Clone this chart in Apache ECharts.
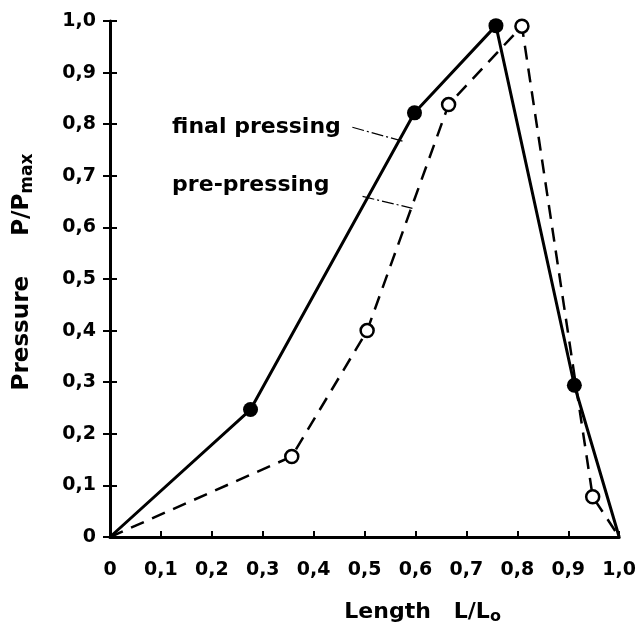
<!DOCTYPE html>
<html>
<head>
<meta charset="utf-8">
<script src="https://cdn.jsdelivr.net/npm/echarts@6/dist/echarts.min.js"></script>
<style>html,body{margin:0;padding:0;background:#fff}#c{width:639px;height:630px}</style>
</head>
<body>
<div id="c"></div>
<script>
// ---- data ----
var xTickLabels = ['0','0,1','0,2','0,3','0,4','0,5','0,6','0,7','0,8','0,9','1,0'];
var yTickLabels = ['0','0,1','0,2','0,3','0,4','0,5','0,6','0,7','0,8','0,9','1,0'];
var finalX = [0, 0.276, 0.598, 0.758, 0.912, 1.0];
var finalY = [0, 0.247, 0.822, 0.991, 0.294, 0.0];
var preX = [0, 0.357, 0.505, 0.665, 0.809, 0.948, 1.0];
var preY = [0, 0.156, 0.400, 0.838, 0.990, 0.078, 0.0];
var annoText = ['final pressing', 'pre-pressing'];
var annoAt = [[0.122, 0.794], [0.122, 0.681]];
var leaderFinal = [[0.476, 0.794], [0.575, 0.767]];
var leaderPre = [[0.496, 0.660], [0.594, 0.637]];

// endpoints on the axes carry no marker in the original
function zip(xs, ys) {
  return xs.map(function (x, i) {
    var item = {value: [x, ys[i]]};
    if (i === 0 || i === xs.length - 1) item.symbol = 'none';
    return item;
  });
}
function tickFmt(labels) {
  return function (v) { var i = Math.round(v * 10); return labels[i] !== undefined ? labels[i] : ''; };
}
var FONT = 'DejaVu Sans';
var chart = echarts.init(document.getElementById('c'), null, {renderer: 'canvas'});
var option = {
  animation: false,
  backgroundColor: '#fff',
  grid: {left: 110, right: 19, top: 21, bottom: 89, containLabel: false},
  xAxis: {
    type: 'value', min: 0, max: 1, interval: 0.1,
    name: 'Length   L/L{s|o}',
    nameLocation: 'middle', nameGap: 62,
    nameTextStyle: {
      fontFamily: FONT, fontWeight: 'bold', fontSize: 22, color: '#000', padding: [0, 0, 0, 116],
      rich: {s: {fontFamily: FONT, fontWeight: 'bold', fontSize: 16, color: '#000', verticalAlign: 'bottom', padding: [10, 0, 0, 0]}}
    },
    axisLine: {lineStyle: {color: '#000', width: 3}},
    axisTick: {inside: true, length: 6, lineStyle: {color: '#000', width: 2}},
    axisLabel: {formatter: tickFmt(xTickLabels), fontFamily: FONT, fontWeight: 'bold', fontSize: 19, color: '#000', margin: 24},
    splitLine: {show: false}
  },
  yAxis: [{
    type: 'value', min: 0, max: 1, interval: 0.1,
    name: 'Pressure     P/P{s|max}',
    nameLocation: 'middle', nameGap: 74,
    nameTextStyle: {
      fontFamily: FONT, fontWeight: 'bold', fontSize: 23, color: '#000', padding: [0, 0, 0, 14],
      rich: {s: {fontFamily: FONT, fontWeight: 'bold', fontSize: 17, color: '#000', verticalAlign: 'bottom', padding: [11, 0, 0, 0]}}
    },
    axisLine: {show: true, lineStyle: {color: '#000', width: 3}},
    axisTick: {show: true, inside: false, length: 7, lineStyle: {color: '#000', width: 2}},
    axisLabel: {formatter: tickFmt(yTickLabels), fontFamily: FONT, fontWeight: 'bold', fontSize: 19, color: '#000', margin: 14},
    splitLine: {show: false}
  }, {
    type: 'value', min: 0, max: 1, interval: 0.1, position: 'left',
    axisLine: {show: false},
    axisTick: {show: true, inside: true, length: 7, lineStyle: {color: '#000', width: 2}},
    axisLabel: {show: false},
    splitLine: {show: false}
  }],
  series: [{
    name: 'final pressing', type: 'line', data: zip(finalX, finalY),
    symbol: 'circle', symbolSize: 15,
    itemStyle: {color: '#000', borderColor: '#000', borderWidth: 0},
    lineStyle: {color: '#000', width: 3},
    markLine: {
      silent: true, symbol: ['none', 'none'], label: {show: false},
      lineStyle: {color: '#000', width: 1.2, type: [12, 3, 2, 3]},
      data: [[{coord: leaderFinal[0]}, {coord: leaderFinal[1]}], [{coord: leaderPre[0]}, {coord: leaderPre[1]}]]
    },
    z: 3
  }, {
    name: 'pre-pressing', type: 'line', data: zip(preX, preY),
    symbol: 'circle', symbolSize: 13,
    itemStyle: {color: '#fff', borderColor: '#000', borderWidth: 2.5},
    lineStyle: {color: '#000', width: 2.5, type: [14, 9]},
    z: 3
  }, {
    type: 'scatter', symbolSize: 0,
    data: annoAt.map(function (p, i) { return {value: p, name: annoText[i]}; }),
    label: {show: true, position: 'right', distance: 0, formatter: '{b}',
      fontFamily: FONT, fontWeight: 'bold', fontSize: 22, color: '#000', opacity: 1},
    itemStyle: {opacity: 1},
    silent: true, z: 4
  }]
};
chart.setOption(option);
</script>
</body>
</html>
